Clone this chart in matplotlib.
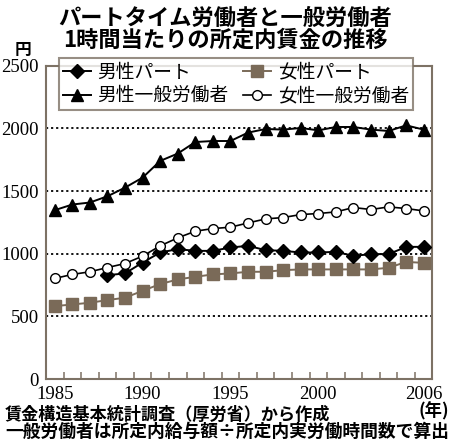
import matplotlib
matplotlib.use("Agg")
import matplotlib.pyplot as plt
from matplotlib.ticker import FixedLocator

plt.rcParams['font.family'] = ['Noto Sans CJK JP', 'DejaVu Sans']

years = list(range(1985, 2007))
male_part_years = list(range(1988, 2007))

# hourly scheduled wage (yen)
male_part = [829, 843, 930, 1010, 1037, 1023, 1023, 1050, 1063, 1029, 1023,
             1010, 1010, 1015, 983, 997, 997, 1055, 1055]
female_part = [582, 595, 609, 630, 649, 704, 758, 795, 816, 835, 843,
               856, 856, 869, 875, 875, 875, 875, 875, 888, 935, 927]
male_general = [1348, 1393, 1409, 1459, 1528, 1608, 1741, 1800, 1892, 1900, 1900,
                1967, 1996, 1991, 2004, 1985, 2012, 2012, 1991, 1980, 2025, 1991]
female_general = [803, 835, 856, 890, 922, 981, 1063, 1127, 1180, 1201, 1212,
                  1246, 1278, 1289, 1313, 1321, 1334, 1369, 1353, 1374, 1361, 1342]

labels = ["男性パート", "女性パート", "男性一般労働者", "女性一般労働者"]
yticks = [0, 500, 1000, 1500, 2000, 2500]
xticks = [1985, 1990, 1995, 2000, 2006]

BROWN = "#7a6a58"
FRAME = "#7d7265"

fig = plt.figure(figsize=(4.5, 4.48), dpi=100)
ax = fig.add_axes([0.1022, 0.154, 0.857, 0.699])

l_mp, = ax.plot(male_part_years, male_part, color="black", lw=1.4, marker="D", ms=7,
                mfc="black", mec="black", zorder=4)
l_fp, = ax.plot(years, female_part, color=BROWN, lw=1.4, marker="s", ms=8,
                mfc=BROWN, mec=BROWN, zorder=3)
l_mg, = ax.plot(years, male_general, color="black", lw=1.4, marker="^", ms=8.5,
                mfc="black", mec="black", zorder=4)
l_fg, = ax.plot(years, female_general, color="black", lw=1.2, marker="o", ms=7,
                mfc="white", mec="black", mew=1.0, zorder=4)

ax.set_xlim(1984.5, 2006.45)
ax.set_ylim(0, 2500)

for v in yticks[1:-1]:
    ax.axhline(v, color="black", lw=1.3, ls=(0, (1.2, 1.6)), zorder=1)

ax.set_yticks(yticks)
ax.set_yticklabels([str(v) for v in yticks], family="Liberation Serif", fontsize=13.5)
ax.set_xticks(xticks)
ax.set_xticklabels([str(v) for v in xticks], family="Liberation Serif", fontsize=13.5)
ax.tick_params(axis="y", length=0, pad=5)
ax.tick_params(axis="x", which="major", length=0, pad=5)
ax.xaxis.set_minor_locator(FixedLocator([y + 0.5 for y in range(1985, 2006)]))
ax.tick_params(axis="x", which="minor", direction="in", length=5, width=1.1, color=FRAME)

for s in ax.spines.values():
    s.set_color(FRAME)
    s.set_linewidth(1.5)

leg = ax.legend([l_mp, l_mg, l_fp, l_fg], [labels[0], labels[2], labels[1], labels[3]],
                ncol=2, loc="lower left", bbox_to_anchor=(0.034, 0.859, 0.917, 0.157),
                mode="expand", fontsize=13.5, frameon=True, fancybox=False,
                handlelength=1.5, handletextpad=0.35, labelspacing=0.15,
                borderpad=0.2, columnspacing=1.0, borderaxespad=0)
leg.get_frame().set_edgecolor(FRAME)
leg.get_frame().set_linewidth(1.5)
leg.set_zorder(6)
leg.set_clip_on(False)

fig.text(0.5, 1 - 18 / 448, "パートタイム労働者と一般労働者", ha="center", va="center",
         fontsize=16, fontweight="bold")
fig.text(0.5, 1 - 40 / 448, "1時間当たりの所定内賃金の推移", ha="center", va="center",
         fontsize=16, fontweight="bold")
fig.text(23 / 450, 1 - 50 / 448, "円", ha="center", va="center", fontsize=12, fontweight="bold")
fig.text(449 / 450, 1 - 411 / 448, "(年)", ha="right", va="center", fontsize=12.5,
         fontweight="bold")
fig.text(5 / 450, 1 - 415 / 448, "賃金構造基本統計調査（厚労省）から作成", ha="left", va="center",
         fontsize=12.3, fontweight="bold")
fig.text(5 / 450, 1 - 432 / 448, "一般労働者は所定内給与額÷所定内実労働時間数で算出",
         ha="left", va="center", fontsize=12.8, fontweight="bold")

fig.savefig("out.png", dpi=100)
